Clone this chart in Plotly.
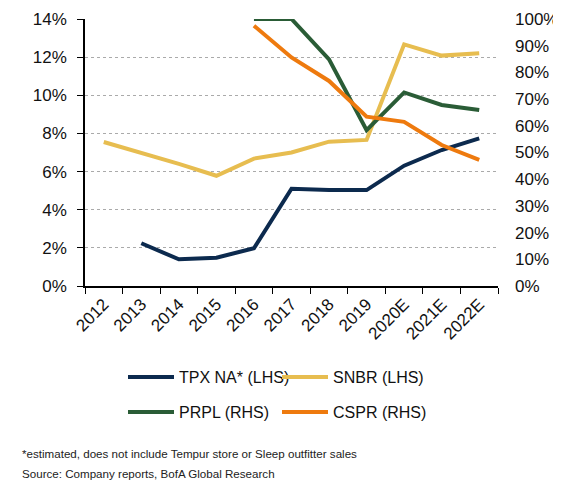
import plotly.graph_objects as go

# categories on the x axis
years = ["2012", "2013", "2014", "2015", "2016", "2017", "2018", "2019", "2020E", "2021E", "2022E"]

# left-hand-side series (%)
tpx = [None, 2.24, 1.40, 1.48, 1.98, 5.10, 5.03, 5.03, 6.31, 7.13, 7.74]
snbr = [7.55, 7.0, 6.4, 5.78, 6.68, 7.0, 7.57, 7.66, 12.67, 12.08, 12.2]

# right-hand-side series (%)
prpl = [None, None, None, None, 100, 100, 84.9, 58.4, 72.5, 67.8, 65.9]
cspr = [None, None, None, None, 97.5, 85.6, 76.8, 63.4, 61.5, 52.8, 47.2]

left_ticks = [0, 2, 4, 6, 8, 10, 12, 14]
right_ticks = [0, 10, 20, 30, 40, 50, 60, 70, 80, 90, 100]

# page has an 8px body margin, so the figure is a bit smaller than the window
W, H = 553, 483
L, T, PW, PH = 77, 11, 413, 267


def py(y_fig):
    # figure pixel row -> paper y
    return (T + PH - y_fig) / PH


def px(x_fig):
    return (x_fig - L) / PW


fig = go.Figure()
fig.add_trace(go.Scatter(x=years, y=tpx, name="TPX NA* (LHS)", mode="lines", legend="legend",
                         line=dict(color="#0c2a4e", width=4)))
fig.add_trace(go.Scatter(x=years, y=snbr, name="SNBR (LHS)", mode="lines", legend="legend",
                         line=dict(color="#e7bd50", width=4)))
fig.add_trace(go.Scatter(x=years, y=prpl, name="PRPL (RHS)", mode="lines", yaxis="y2",
                         legend="legend2", line=dict(color="#2a5c36", width=4)))
fig.add_trace(go.Scatter(x=years, y=cspr, name="CSPR (RHS)", mode="lines", yaxis="y2",
                         legend="legend2", line=dict(color="#ee7a0e", width=4)))

leg = dict(orientation="h", xanchor="left", yanchor="middle", entrywidth=93,
           itemwidth=46, font=dict(size=16, color="#111"), bgcolor="rgba(0,0,0,0)")

fig.update_layout(
    width=W, height=H,
    margin=dict(l=L, r=W - L - PW, t=T, b=H - T - PH, autoexpand=False),
    plot_bgcolor="white", paper_bgcolor="white",
    font=dict(family="Liberation Sans", size=17, color="#111"),
    showlegend=True,
    legend=dict(leg, x=px(115), y=py(369)),
    legend2=dict(leg, x=px(115), y=py(404)),
    xaxis=dict(type="category", tickangle=-45, showline=True, linecolor="black", linewidth=1.5,
               ticks="outside", tickson="boundaries", ticklen=6, tickcolor="black",
               showgrid=False, range=[-0.5, 10.5]),
    yaxis=dict(range=[0, 14], tickmode="array", tickvals=left_ticks,
               ticktext=[f"{v}%" for v in left_ticks], showline=True,
               linecolor="black", linewidth=1.5, ticks="outside", ticklen=6, tickcolor="black",
               showgrid=True, gridcolor="#aaaaaa", griddash="dot", gridwidth=1,
               zeroline=False, ticklabelstandoff=7),
    yaxis2=dict(range=[0, 100], tickmode="array", tickvals=right_ticks,
                ticktext=[f"{v}%" for v in right_ticks], overlaying="y", side="right",
                showline=False, showgrid=False, zeroline=False, ticks="",
                ticklabelstandoff=16),
)

fig.add_annotation(text="*estimated, does not include Tempur store or Sleep outfitter sales",
                   xref="paper", yref="paper", x=px(12), y=py(445),
                   xanchor="left", yanchor="middle", showarrow=False,
                   font=dict(size=11.6, color="#222"))
fig.add_annotation(text="Source: Company reports, BofA Global Research",
                   xref="paper", yref="paper", x=px(12), y=py(465),
                   xanchor="left", yanchor="middle", showarrow=False,
                   font=dict(size=11.6, color="#222"))

fig.write_html("out.html")
